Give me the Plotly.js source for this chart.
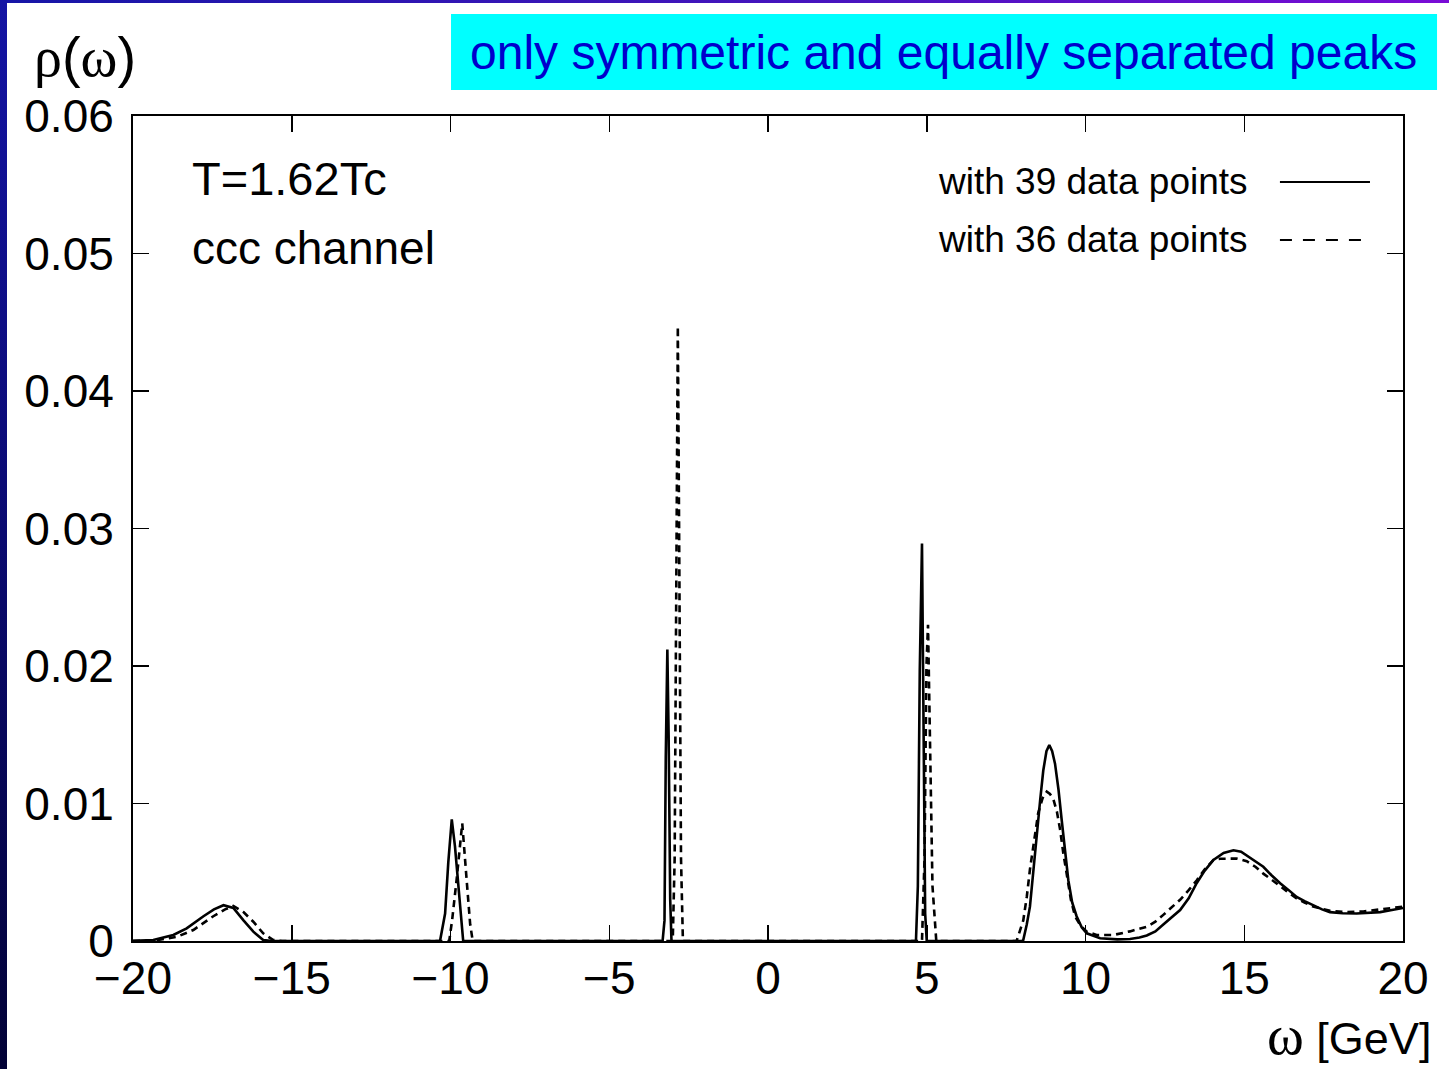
<!DOCTYPE html>
<html>
<head>
<meta charset="utf-8">
<script src="https://cdn.plot.ly/plotly-3.0.1.min.js"></script>
<style>
  html, body { margin: 0; padding: 0; background: #ffffff; }
  #wrap { position: relative; width: 1449px; height: 1069px; overflow: hidden; }
  #plot { position: absolute; left: 0; top: 0; width: 1449px; height: 1069px; }
  #topbar { position: absolute; left: 0; top: 0; width: 1449px; height: 3px;
            background: linear-gradient(to right, #1616a6, #4a14c0 60%, #7a0cd6); }
  #leftbar { position: absolute; left: 0; top: 0; width: 7px; height: 1069px;
             background: linear-gradient(to bottom, #1414a4, #0a0a70 50%, #020236); }
</style>
</head>
<body>
<div id="wrap">
  <div id="plot"></div>
  <div id="topbar"></div>
  <div id="leftbar"></div>
</div>
<script>
// Spectral function rho(omega), ccc channel at T = 1.62 Tc
// Reconstruction with 39 data points (solid)
const omega39 = [-20, -19.36, -18.73, -18.31, -17.78, -17.45, -17.15, -16.84, -16.52, -16.21, -15.9, -15.6,
  -10.33, -10.17, -10.07, -9.96, -9.86, -9.75, -9.6,
  -3.32, -3.26, -3.22, -3.17, -3.13, -3.08, -3.04,
  4.66, 4.72, 4.78, 4.85, 4.9, 4.95, 5.0,
  8.0, 8.04, 8.15, 8.25, 8.35, 8.46, 8.57, 8.67, 8.77, 8.86, 8.95, 9.04, 9.15, 9.25, 9.35, 9.46, 9.58, 9.72, 9.88,
  10.04, 10.46, 11.0, 11.4, 11.7, 11.93, 12.2, 12.45, 12.7, 12.98, 13.25, 13.5, 13.75, 14.03, 14.35, 14.66,
  14.9, 15.1, 15.35, 15.6, 15.85, 16.13, 16.4, 16.65, 16.9, 17.17, 17.45, 17.7, 18.1, 18.54, 18.9, 19.28, 19.65, 20];
const rho39 = [0.00002, 0.00007, 0.00044, 0.00092, 0.0018, 0.0023, 0.0026, 0.0024, 0.0015, 0.00068, 0.00007, 0,
  0, 0.002, 0.0057, 0.00885, 0.0069, 0.0037, 0,
  0, 0.0015, 0.0134, 0.0212, 0.015, 0.003, 0,
  0, 0.004, 0.0197, 0.0289, 0.012, 0.002, 0,
  0, 0.00007, 0.0012, 0.0025, 0.005, 0.0076, 0.0102, 0.0124, 0.0138, 0.01425, 0.0138, 0.0129, 0.011, 0.0088,
  0.0065, 0.0044, 0.0028, 0.0018, 0.001,
  0.00056, 0.0002, 0.00012, 0.00015, 0.00025, 0.0004, 0.0007, 0.0012, 0.0017, 0.00225, 0.0031, 0.0042, 0.0051,
  0.0059, 0.0064, 0.0066, 0.0065, 0.0062, 0.0058, 0.0054, 0.0048, 0.0042, 0.0037, 0.0032, 0.0029, 0.0026,
  0.0023, 0.0021, 0.00202, 0.002, 0.00203, 0.0021, 0.00225, 0.0024];

// Reconstruction with 36 data points (dashed)
const omega36 = [-20, -19.36, -18.62, -18.1, -17.47, -17.1, -16.84, -16.52, -16.21, -15.9, -15.58, -15.3,
  -10.04, -9.95, -9.81, -9.63, -9.49, -9.38, -9.3,
  -3.0, -2.94, -2.88, -2.84, -2.8, -2.74, -2.68,
  4.85, 4.93, 4.99, 5.04, 5.1, 5.18, 5.3,
  7.83, 8.04, 8.15, 8.25, 8.38, 8.51, 8.65, 8.78, 8.88, 8.99, 9.1, 9.2, 9.3, 9.41, 9.54, 9.67, 9.85,
  10.04, 10.35, 10.88, 11.4, 11.93, 12.2, 12.45, 12.7, 12.98, 13.25, 13.5, 13.75, 14.03, 14.25, 14.45, 14.75,
  15.08, 15.35, 15.6, 15.85, 16.13, 16.4, 16.65, 16.9, 17.17, 17.7, 18.22, 18.75, 19.28, 19.65, 20];
const rho36 = [0, 0.00002, 0.0003, 0.0008, 0.0018, 0.0023, 0.00255, 0.0021, 0.0014, 0.00056, 0.00007, 0,
  0, 0.0015, 0.0044, 0.00856, 0.0044, 0.0012, 0,
  0, 0.006, 0.03, 0.0447, 0.03, 0.006, 0,
  0, 0.006, 0.02, 0.023, 0.014, 0.004, 0,
  0, 0.0015, 0.0032, 0.0052, 0.0074, 0.0093, 0.0104, 0.01086, 0.0107, 0.0103, 0.0094, 0.0081, 0.0064, 0.0047,
  0.003, 0.0018, 0.0011,
  0.00068, 0.00044, 0.00044, 0.0007, 0.00104, 0.0014, 0.0019, 0.0024, 0.003, 0.0037, 0.0044, 0.0052, 0.0059,
  0.00598, 0.006, 0.006, 0.0058, 0.0054, 0.0049, 0.0045, 0.004, 0.0035, 0.0031, 0.0028, 0.0025, 0.0022,
  0.0021, 0.00215, 0.0023, 0.0024, 0.0025];

// Axis ticks
const xTicks = [-20, -15, -10, -5, 0, 5, 10, 15, 20];
const yTicks = [0, 0.01, 0.02, 0.03, 0.04, 0.05, 0.06];
const yTickText = ['0', '0.01', '0.02', '0.03', '0.04', '0.05', '0.06'];

// Labels
const seriesNames = ['with 39 data points', 'with 36 data points'];
const headline = 'only symmetric and equally separated peaks';
const tempLabel = 'T=1.62Tc';
const channelLabel = 'ccc channel';

const SANS = 'Liberation Sans, Arial, sans-serif';
const SERIF = 'Liberation Serif, Times New Roman, serif';

const traces = [
  { x: omega39, y: rho39, type: 'scatter', mode: 'lines', name: seriesNames[0],
    line: { color: '#000000', width: 2.6 }, hoverinfo: 'skip' },
  { x: omega36, y: rho36, type: 'scatter', mode: 'lines', name: seriesNames[1],
    line: { color: '#000000', width: 2.6, dash: '7px,5px' }, hoverinfo: 'skip' }
];

const axisCommon = {
  showline: true, linecolor: '#000000', linewidth: 2, mirror: 'ticks',
  ticks: 'inside', ticklen: 16, tickwidth: 1.5, tickcolor: '#000000',
  showgrid: false, zeroline: false,
  tickfont: { family: SANS, size: 46, color: '#000000' }
};

const layout = {
  width: 1449, height: 1069,
  margin: { l: 133, r: 46, t: 116, b: 128, pad: 0 },
  paper_bgcolor: '#ffffff', plot_bgcolor: '#ffffff',
  showlegend: false,
  xaxis: Object.assign({}, axisCommon, {
    range: [-20, 20], tickmode: 'array', tickvals: xTicks, ticklabelstandoff: -4
  }),
  yaxis: Object.assign({}, axisCommon, {
    range: [0, 0.06], tickmode: 'array', tickvals: yTicks, ticktext: yTickText, ticklabelstandoff: 8
  }),
  shapes: [
    // headline box
    { type: 'rect', xref: 'paper', yref: 'paper', x0: 0.2504, x1: 1.0268, y0: 1.0315, y1: 1.1236,
      fillcolor: '#00ffff', line: { width: 0 }, layer: 'below' },
    // legend samples
    { type: 'line', xref: 'paper', yref: 'paper', x0: 0.9031, x1: 0.974, y0: 0.92, y1: 0.92,
      line: { color: '#000000', width: 2.2 } },
    { type: 'line', xref: 'paper', yref: 'paper', x0: 0.9031, x1: 0.974, y0: 0.8497, y1: 0.8497,
      line: { color: '#000000', width: 2.2, dash: '12px,11px' } }
  ],
  annotations: [
    { xref: 'paper', yref: 'paper', x: 0.6378, y: 1.0764, xanchor: 'center', yanchor: 'middle',
      text: headline, showarrow: false, font: { family: SANS, size: 48, color: '#0000cc' } },
    { xref: 'paper', yref: 'paper', x: -0.0795, y: 1.072, xanchor: 'left', yanchor: 'middle',
      text: '<span style="font-family:' + SERIF + '">ρ</span>(<span style="font-family:' + SERIF + '">ω</span>)',
      showarrow: false, font: { family: SANS, size: 56, color: '#000000' } },
    { xref: 'paper', yref: 'paper', x: 1.0236, y: -0.1139, xanchor: 'right', yanchor: 'middle',
      text: '<span style="font-family:' + SERIF + ';font-size:56px">ω</span> [GeV]',
      showarrow: false, font: { family: SANS, size: 45, color: '#000000' } },
    { xref: 'paper', yref: 'paper', x: 0.0445, y: 0.9248, xanchor: 'left', yanchor: 'middle',
      text: tempLabel, showarrow: false, font: { family: SANS, size: 47, color: '#000000' } },
    { xref: 'paper', yref: 'paper', x: 0.0445, y: 0.84, xanchor: 'left', yanchor: 'middle',
      text: channelLabel, showarrow: false, font: { family: SANS, size: 46, color: '#000000' } },
    { xref: 'paper', yref: 'paper', x: 0.8795, y: 0.92, xanchor: 'right', yanchor: 'middle',
      text: seriesNames[0], showarrow: false, font: { family: SANS, size: 37, color: '#000000' } },
    { xref: 'paper', yref: 'paper', x: 0.8795, y: 0.8497, xanchor: 'right', yanchor: 'middle',
      text: seriesNames[1], showarrow: false, font: { family: SANS, size: 37, color: '#000000' } }
  ]
};

Plotly.newPlot('plot', traces, layout, { staticPlot: true, displayModeBar: false });
</script>
</body>
</html>
